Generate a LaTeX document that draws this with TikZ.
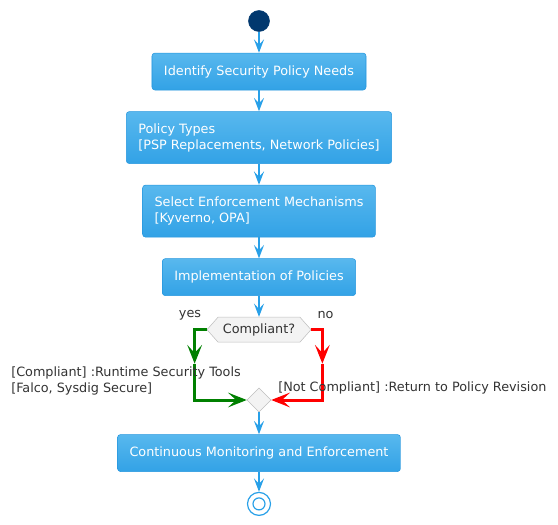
\documentclass[tikz,border=0pt]{standalone}
\usepackage{fontspec}
\setmainfont{DejaVu Sans}
\usepackage{tikz}
\usetikzlibrary{shapes.geometric, shapes.symbols, arrows.meta, positioning, calc}

\definecolor{flowblue}{RGB}{40,160,232}
\definecolor{boxtop}{RGB}{88,184,238}
\definecolor{boxbot}{RGB}{50,162,230}
\definecolor{boxline}{RGB}{36,150,222}
\definecolor{startblue}{RGB}{1,56,110}
\definecolor{gatefill}{RGB}{243,243,243}
\definecolor{gateline}{RGB}{190,190,190}
\definecolor{labelgray}{RGB}{51,51,51}
\definecolor{yesgreen}{RGB}{0,128,0}
\definecolor{nored}{RGB}{255,0,0}

\begin{document}
\begin{tikzpicture}[
    x=0.75pt, y=-0.75pt,
    font=\fontsize{9.6pt}{12pt}\selectfont,
    action/.style={rectangle, rounded corners=2.25pt, draw=boxline, top color=boxtop, bottom color=boxbot, text=white, inner xsep=9pt, inner ysep=0pt, minimum height=27.75pt, align=center},
    action2/.style={action, minimum height=39pt, align=left},
    gate/.style={signal, signal to=east and west, signal pointer angle=97, draw=gateline, fill=gatefill, text=labelgray, minimum width=78pt, minimum height=18.75pt, inner sep=0pt},
    merge/.style={diamond, draw=gateline, fill=gatefill, minimum size=18pt, inner sep=0pt},
    arrow/.style={-{Stealth[length=10pt, width=7.5pt, inset=4pt]}, line width=1.5pt, flowblue},
    yesline/.style={line width=2.25pt, yesgreen},
    noline/.style={line width=2.25pt, nored},
    bigtip/.style={-{Stealth[length=14pt, width=11pt, inset=6pt]}},
    note/.style={text=labelgray, inner sep=0pt, align=left}
]
\useasboundingbox (0,0) rectangle (558,525);

% Start
\node[circle, fill=startblue, draw=startblue, minimum size=15.75pt, inner sep=0pt] (start) at (259,21) {};

% Actions
\node[action, below=15.75pt of start] (identify) {Identify Security Policy Needs};
\node[action2, below=15.75pt of identify] (types) {Policy Types\\{}[PSP Replacements, Network Policies]};
\node[action2, below=15.75pt of types] (select) {Select Enforcement Mechanisms\\{}[Kyverno, OPA]};
\node[action, below=15.75pt of select] (implement) {Implementation of Policies};

% Decision and merge
\node[gate, below=15.75pt of implement] (check) {Compliant?};
\node[merge] (join) at (259,400) {};

% Last action and end
\node[action, below=16.5pt of join] (monitor) {Continuous Monitoring and Enforcement};
\node[circle, draw=flowblue, line width=0.9pt, minimum size=17.25pt, inner sep=0pt, below=15pt of monitor] (stop) {};
\node[circle, draw=flowblue, line width=0.9pt, minimum size=9pt, inner sep=0pt] (stopcore) at (stop.center) {};

% Main flow
\draw[arrow] (start) -- (identify);
\draw[arrow] (identify) -- (types);
\draw[arrow] (types) -- (select);
\draw[arrow] (select) -- (implement);
\draw[arrow] (implement) -- (check.north);
\draw[arrow] (join.south) -- (monitor);
\draw[arrow] (monitor) -- (stop);

% Branches
\coordinate (yesmid) at ($(check.west)+(-12,34)$);
\coordinate (nomid) at ($(check.east)+(11,34)$);
\draw[yesline, bigtip] (check.west) -| (yesmid);
\draw[yesline, bigtip] (yesmid) |- (join.west);
\draw[noline, bigtip] (check.east) -| (nomid);
\draw[noline, bigtip] (nomid) |- (join.east);

% Labels
\node[note] (yeslabel) at (190,315) {yes};
\node[note] (nolabel) at (325.5,315) {no};
\node[note, anchor=west] (yesnote) at (11,381) {[Compliant] :Runtime Security Tools\\{}[Falco, Sysdig Secure]};
\node[note, anchor=west] (nonote) at (278,388) {[Not Compliant] :Return to Policy Revision};

\end{tikzpicture}
\end{document}
